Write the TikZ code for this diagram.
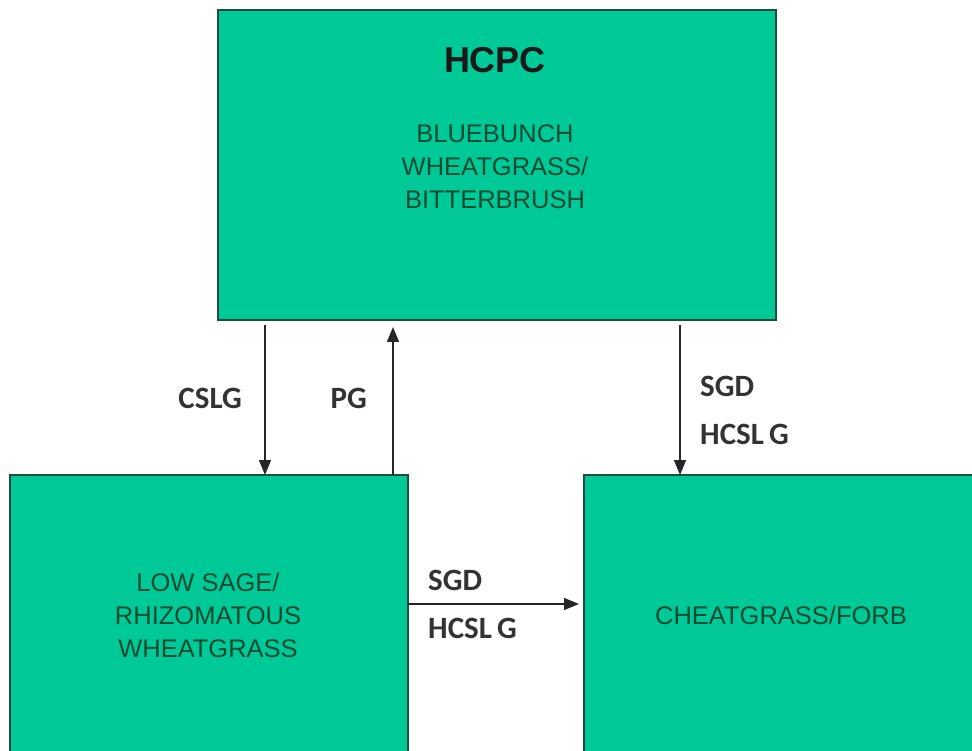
\documentclass[tikz,border=0pt]{standalone}
\usepackage{fontspec}
\setmainfont{Liberation Sans}
\newfontfamily\lblfont{Carlito}
\usetikzlibrary{arrows.meta,positioning}
\definecolor{stategreen}{RGB}{0,201,152}
\definecolor{stateedge}{RGB}{28,78,58}
\definecolor{statetext}{RGB}{14,74,50}
\tikzset{
  statebox/.style={rectangle, draw=stateedge, line width=2.2pt, fill=stategreen,
                   inner sep=0pt, outer sep=0pt},
  boxtxt/.style={align=center, text=statetext, font=\fontsize{25.5}{33}\selectfont},
  hdrtxt/.style={font=\fontsize{36}{40}\selectfont\bfseries, text=black!90},
  ar/.style={-{Triangle[length=15pt,width=12pt]}, line width=1.4pt, draw=black!85},
  lbl/.style={font=\lblfont\fontsize{31}{48}\selectfont\bfseries, text=black!80,
              align=left, inner sep=0pt},
}

\begin{document}
\begin{tikzpicture}[x=1pt, y=-1pt]
\clip (0,0) rectangle (972,751);

% ============================ states ==============================
\node[statebox, minimum width=558pt, minimum height=310pt] (top) at (497,165) {};
\node[hdrtxt] (hcpc) at (495,60) {HCPC};
\node[boxtxt] (toptxt) at (495,167) {BLUEBUNCH\\WHEATGRASS/\\BITTERBRUSH};

\node[statebox, minimum width=398pt, minimum height=280pt] (lb) at (209,615) {};
\node[boxtxt] (lbtxt) at (208,615) {LOW SAGE/\\RHIZOMATOUS\\WHEATGRASS};

\node[statebox, minimum width=394pt, minimum height=280pt] (rb) at (781,615) {};
\node[boxtxt] (rbtxt) at (781,615) {CHEATGRASS/FORB};

% ============================ transitions ==========================
\draw[ar, shorten <=5pt] ([xshift=47pt]top.south west) -- ([xshift=255pt]lb.north west);
\draw[ar, shorten >=7pt] ([xshift=383pt]lb.north west) -- ([xshift=175pt]top.south west);
\draw[ar, shorten <=5pt] ([xshift=-96pt]top.south east) -- ([xshift=96pt]rb.north west);
\draw[ar, shorten >=5pt] ([yshift=11pt]lb.east) -- ([yshift=11pt]rb.west);

\node[lbl, anchor=east] (cslg) at (242,398) {CSLG};
\node[lbl, anchor=east] (pg) at (367,398) {PG};
\node[lbl, anchor=west] (rtlbl) at (700,410) {SGD\\HCSL\,G};
\node[lbl, anchor=west] (hzlbl) at (428,604) {SGD\\HCSL\,G};

\end{tikzpicture}
\end{document}
